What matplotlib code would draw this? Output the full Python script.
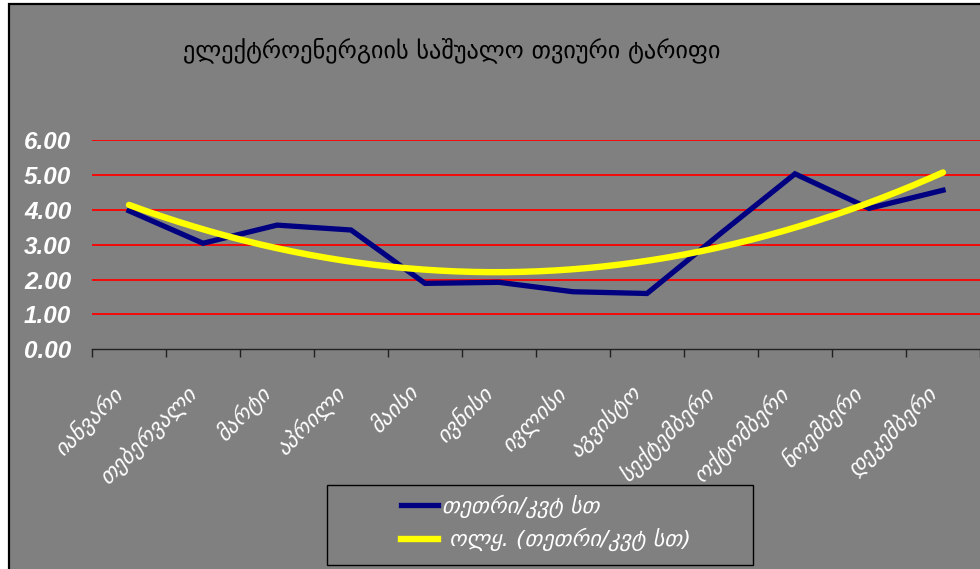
import numpy as np
import matplotlib
matplotlib.use("Agg")
import matplotlib.pyplot as plt
from matplotlib.lines import Line2D
from matplotlib.patches import Rectangle
from matplotlib.transforms import ScaledTranslation

# monthly average tariff, tetri per kWh
months = ["იანვარი", "თებერვალი", "მარტი", "აპრილი", "მაისი", "ივნისი",
          "ივლისი", "აგვისტო", "სექტემბერი", "ოქტომბერი", "ნოემბერი", "დეკემბერი"]
tariff = [3.97, 3.04, 3.56, 3.42, 1.89, 1.92, 1.65, 1.60, 3.33, 5.03, 4.04, 4.56]
y_ticks = [0, 1, 2, 3, 4, 5, 6]

title = "ელექტროენერგიის საშუალო თვიური ტარიფი"
series_label = "თეთრი/კვტ სთ"
trend_label = " ოლყ. (თეთრი/კვტ სთ)"

W, H = 980, 569
GRAY = "#808080"

fig = plt.figure(figsize=(W / 100, H / 100), dpi=100, facecolor="white")

# gray chart area with thin black frame on the top/left
fig.patches.append(Rectangle((8.5 / W, -0.01), 1.0, 1 - 3.5 / H + 0.01,
                             transform=fig.transFigure, facecolor=GRAY,
                             edgecolor="black", linewidth=1.6, zorder=-5))

ax = fig.add_axes([92 / W, 1 - 349.3 / H, (W - 92) / W, (349.3 - 140) / H])
ax.patch.set_visible(False)
ax.set_zorder(1)

x = np.arange(len(months))
ax.plot(x, tariff, color="#000080", lw=3.8, solid_joinstyle="miter", zorder=3)

# second order polynomial trend
coef = np.polyfit(x, tariff, 2)
xs = np.linspace(0, len(months) - 1, 200)
ax.plot(xs, np.polyval(coef, xs), color="#ffff00", lw=4.6,
        solid_capstyle="round", zorder=4)

ax.set_xlim(-0.5, len(months) - 0.5)
ax.set_ylim(0, 6)

for v in y_ticks[1:]:
    ax.axhline(v, color="#ff0000", lw=1.3, zorder=1)

for s in ["top", "right", "left"]:
    ax.spines[s].set_visible(False)
ax.spines["bottom"].set_color("#202020")
ax.spines["bottom"].set_linewidth(1.0)

ax.set_yticks(y_ticks)
ax.set_yticklabels([f"{v:.2f}" for v in y_ticks], fontsize=17.5,
                   fontfamily="Liberation Sans", fontweight="bold",
                   fontstyle="italic", color="white")
ax.tick_params(axis="y", length=0, pad=15)

ax.set_xticks(np.arange(len(months) + 1) - 0.5)
ax.set_xticklabels([])
ax.tick_params(axis="x", which="major", direction="out", length=6,
               width=1.0, color="#202020")
ax.set_xticks(x, minor=True)
ax.set_xticklabels(months, minor=True, rotation=45, ha="right",
                   rotation_mode="anchor", fontsize=16,
                   fontfamily="DejaVu Sans", fontstyle="italic",
                   color="white")
ax.tick_params(axis="x", which="minor", length=0, pad=28)
shift = ScaledTranslation(-10 / 100, -2 / 100, fig.dpi_scale_trans)
for lbl in ax.get_xticklabels(minor=True):
    lbl.set_va("center")
    lbl.set_transform(lbl.get_transform() + shift)

fig.text(452 / W, 1 - 50 / H, title, ha="center", va="center",
         fontsize=17.5, fontfamily="DejaVu Sans", color="black")

# legend box
fig.patches.append(Rectangle((327 / W, 1 - 565 / H), (753 - 327) / W,
                             (565 - 485) / H, transform=fig.transFigure,
                             facecolor=GRAY, edgecolor="black",
                             linewidth=1.0, zorder=5))
handles = [Line2D([], [], color="#000080", lw=3.8),
           Line2D([], [], color="#ffff00", lw=4.6)]
leg = fig.legend(handles, [series_label, trend_label], loc="center left",
                 bbox_to_anchor=(381 / W, 1 - 523 / H), frameon=False,
                 handlelength=1.65, handletextpad=0.2, labelspacing=0.45,
                 prop={"family": "DejaVu Sans", "style": "italic", "size": 16})
leg.set_zorder(6)
for t in leg.get_texts():
    t.set_color("white")

fig.savefig("out.png", dpi=100, facecolor=fig.get_facecolor())
